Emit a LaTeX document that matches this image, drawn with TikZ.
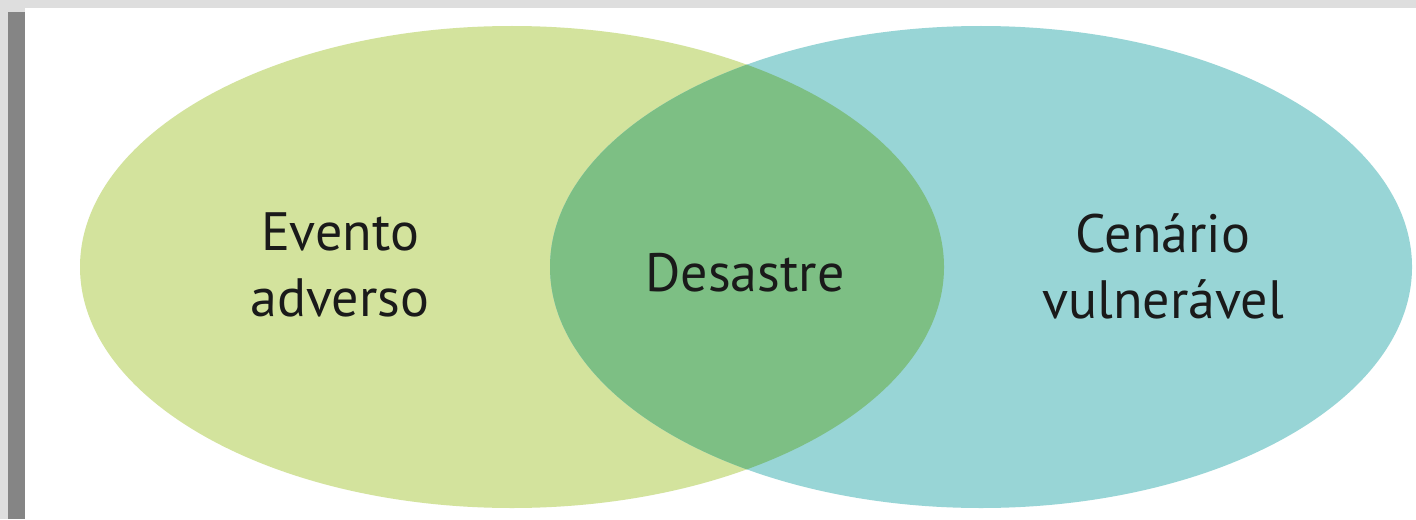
\documentclass[tikz,border=0pt]{standalone}
\usepackage{fontspec}
\setmainfont{PT Sans}
\definecolor{bgrey}{HTML}{DEDEDE}
\definecolor{dgrey}{HTML}{858585}
\definecolor{cgreen}{HTML}{D3E39D}
\definecolor{cteal}{HTML}{98D5D6}
\definecolor{cover}{HTML}{7DBF84}
\definecolor{ctext}{HTML}{1A1A1A}
\begin{document}
\begin{tikzpicture}[x=0.5pt,y=-0.5pt,
  lbl/.style={text=ctext,font=\fontsize{27}{33}\selectfont,align=center,inner sep=0pt}]
\useasboundingbox (0,0) rectangle (1416,519);
\fill[bgrey] (0,0) rectangle (1416,519);
\fill[dgrey] (8,12) rectangle (25,519);
\fill[white] (25,8) rectangle (1416,519);
\fill[cgreen] (512,267) ellipse [x radius=432, y radius=241];
\fill[cteal] (981,267) ellipse [x radius=431, y radius=241];
\begin{scope}
\clip (512,267) ellipse [x radius=432, y radius=241];
\fill[cover] (981,267) ellipse [x radius=431, y radius=241];
\end{scope}
\node[lbl] (ev) at (340,265) {Evento\\adverso};
\node[lbl] (de) at (745,273) {Desastre};
\node[lbl] (ce) at (1163,266) {Cenário\\vulnerável};
\end{tikzpicture}
\end{document}
